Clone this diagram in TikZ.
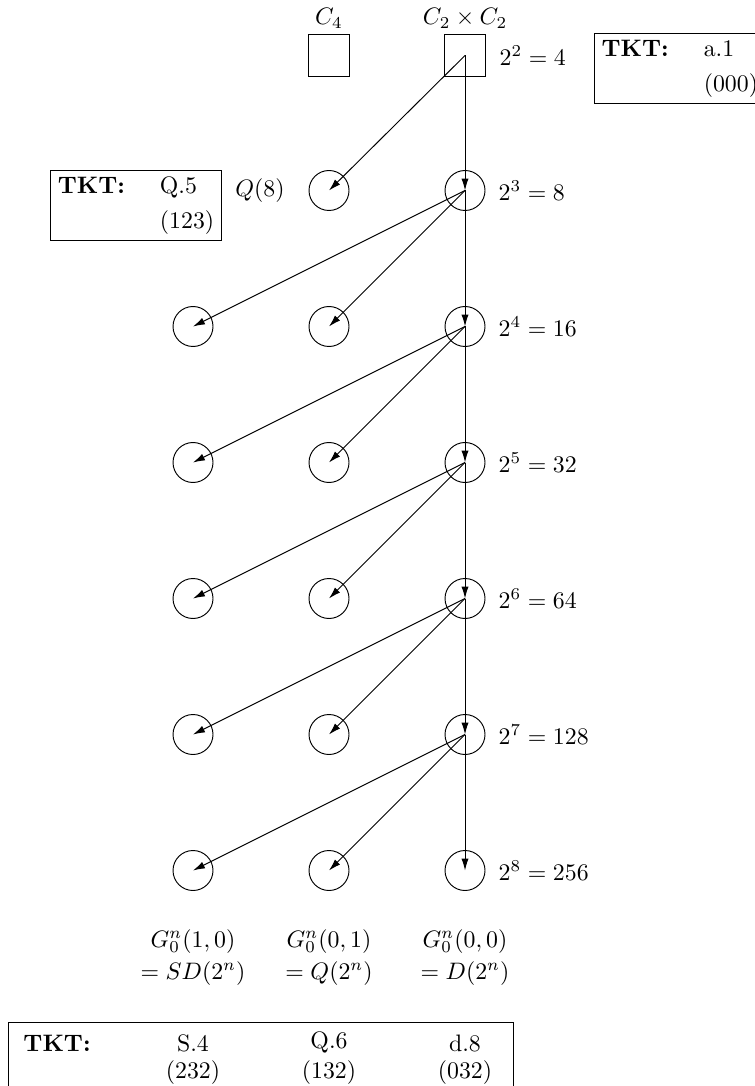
\documentclass[tikz,border=0pt]{standalone}
\usepackage{amsmath,amssymb}
\usetikzlibrary{arrows.meta,positioning}
\tikzset{
  grpcirc/.style = {circle,draw,thin,minimum size=16.8pt,inner sep=0pt},
  grpsq/.style   = {rectangle,draw,thin,minimum size=17.6pt,inner sep=0pt},
  hasse/.style   = {-{Latex[length=5pt,width=3pt]},thin},
  tktbox/.style  = {draw,thin,inner xsep=3pt,inner ysep=1.5pt},
  tktent/.style  = {anchor=base,inner sep=0pt}
}

\begin{document}
\begin{tikzpicture}[x=0.42pt,y=-0.42pt]
  \clip (0,0) rectangle (755,1086);
  % the two groups of order 4
  \node[grpsq] (c4) at (329,55.5) {};
  \node[grpsq] (v4) at (465,55.5) {};
  \node[above=-1pt of c4] (c4lbl) {$C_4$};
  \node[above=-1pt of v4] (v4lbl) {$C_2\times C_2$};
  \node[right=2pt of v4] (ord2) {$2^2=4$};
  \node[tktbox,anchor=west] (tktv4) at (594,68.5)
    {\begin{tabular}{@{}l@{\hspace{14.7pt}}l@{}}\textbf{TKT:} & a.1\\[2.5pt] & (000)\end{tabular}};
  % quaternion group of order 8
  \node[grpcirc] (q3) at (329,190.5) {};
  \node[left=6.5pt of q3] (q3lbl) {$Q(8)$};
  \node[tktbox] (tktq8) at (136,205.5)
    {\begin{tabular}{@{}l@{\hspace{14.7pt}}l@{}}\textbf{TKT:} & Q.5\\[2.5pt] & (123)\end{tabular}};
  % the three branches, one row per order 2^n
  \foreach \n [evaluate=\n as \yy using {190.5+136*(\n-3)},
               evaluate=\n as \ord using {int(2^\n)}] in {3,...,8}{
    \node[grpcirc] (d\n) at (465,\yy) {};
    \node[right=2pt of d\n] (ord\n) {$2^{\n}=\ord$};
  }
  \foreach \n [evaluate=\n as \yy using {190.5+136*(\n-3)}] in {4,...,8}{
    \node[grpcirc] (s\n) at (193,\yy) {};
    \node[grpcirc] (q\n) at (329,\yy) {};
  }
  % descendants
  \draw[hasse] (v4.center) -- (q3.center);
  \draw[hasse] (v4.center) -- (d3.center);
  \foreach \n [evaluate=\n as \m using {int(\n+1)}] in {3,...,7}{
    \draw[hasse] (d\n.center) -- (s\m.center);
    \draw[hasse] (d\n.center) -- (q\m.center);
    \draw[hasse] (d\n.center) -- (d\m.center);
  }
  % names of the branches
  \node[tktent] (slbl) at (193,947) {$G_0^n(1,0)$};
  \node[tktent] (slbl2) at (193,979) {$=SD(2^n)$};
  \node[tktent] (qlbl) at (329,947) {$G_0^n(0,1)$};
  \node[tktent] (qlbl2) at (329,979) {$=Q(2^n)$};
  \node[tktent] (dlbl) at (465,947) {$G_0^n(0,0)$};
  \node[tktent] (dlbl2) at (465,979) {$=D(2^n)$};
  % transfer kernel types of the branches
  \draw[thin] (8,1022) rectangle (513,1110);
  \node[tktent,anchor=base west] (tkthd) at (23,1051) {\textbf{TKT:}};
  \node[tktent] (tkts) at (193,1051) {S.4};
  \node[tktent] (tktsv) at (193,1078) {(232)};
  \node[tktent] (tktq) at (329,1048) {Q.6};
  \node[tktent] (tktqv) at (329,1078) {(132)};
  \node[tktent] (tktd) at (465,1051) {d.8};
  \node[tktent] (tktdv) at (465,1078) {(032)};
\end{tikzpicture}
\end{document}
